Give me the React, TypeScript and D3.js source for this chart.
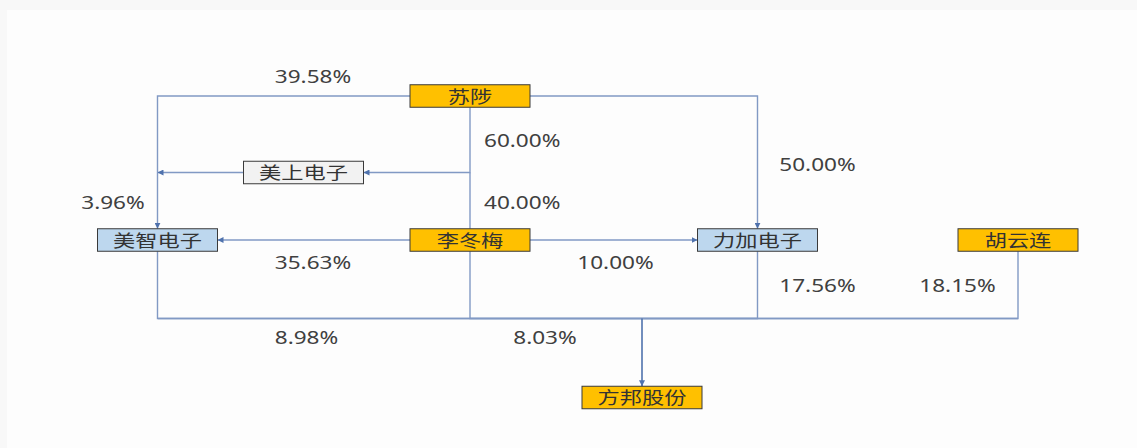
import React from "react";
import * as d3 from "d3";

// ---- data ----
const entityNames = ["苏陟", "李冬梅", "美上电子", "美智电子", "力加电子", "胡云连", "方邦股份"];
const entityKinds = ["person", "person", "holding", "company", "company", "person", "target"];

// ownership edges: [owner, owned, share]
const edgeOwners = ["苏陟", "苏陟", "苏陟", "李冬梅", "美上电子", "李冬梅", "李冬梅", "美智电子", "李冬梅", "力加电子", "胡云连"];
const edgeTargets = ["美智电子", "力加电子", "美上电子", "美上电子", "美智电子", "美智电子", "力加电子", "方邦股份", "方邦股份", "方邦股份", "方邦股份"];
const edgeShares = ["39.58%", "50.00%", "60.00%", "40.00%", "3.96%", "35.63%", "10.00%", "8.98%", "8.03%", "17.56%", "18.15%"];

// ---- layout (grid units -> pixels through scales) ----
const W = 1137;
const H = 448;
const x = d3.scaleLinear().domain([0, 1]).range([0, W]);
const y = d3.scaleLinear().domain([0, 1]).range([0, H]);

const boxW = 120;
const boxH = 22.5;

const nodePos: Record<string, [number, number]> = {
  "苏陟": [470 / W, 96 / H],
  "李冬梅": [470 / W, 240 / H],
  "美上电子": [303.5 / W, 172.5 / H],
  "美智电子": [157.5 / W, 240 / H],
  "力加电子": [757.5 / W, 240 / H],
  "胡云连": [1018 / W, 240 / H],
  "方邦股份": [642 / W, 397.5 / H],
};

const busY = 318.5 / H;

// label anchor positions per edge index (center x, baseline y)
const labelPos: [number, number][] = [
  [313, 83],
  [817.5, 170.5],
  [484, 147],
  [484, 209],
  [113, 209],
  [313, 269],
  [615.5, 269],
  [306.5, 344],
  [545, 344],
  [817.5, 292],
  [957.5, 292],
];

const fills: Record<string, string> = {
  person: "#ffc000",
  holding: "#f2f2f2",
  company: "#bdd7ee",
  target: "#ffc000",
};

const LINE = "#8199c4";
const ARROW = "#4f72ad";
const FONT = "'Noto Sans', 'Noto Sans CJK SC', sans-serif";
const SX = 1.27;

function P(name: string): [number, number] {
  const p = nodePos[name];
  return [x(p[0]), y(p[1])];
}

function edgePath(i: number): { d: string; arrow: boolean } {
  const o = P(edgeOwners[i]);
  const t = P(edgeTargets[i]);
  const line = d3.line();
  const hw = boxW / 2;
  const hh = boxH / 2;
  const target = edgeTargets[i];
  if (target === "方邦股份") {
    return { d: line([[o[0], o[1] + hh], [o[0], y(busY)], [t[0], y(busY)]]) as string, arrow: false };
  }
  if (Math.abs(o[1] - t[1]) < 1) {
    const dir = t[0] > o[0] ? 1 : -1;
    return { d: line([[o[0] + dir * hw, o[1]], [t[0] - dir * hw, t[1]]]) as string, arrow: true };
  }
  if (edgeOwners[i] === "李冬梅") {
    return { d: line([[o[0], o[1] - hh], [o[0], t[1]]]) as string, arrow: false };
  }
  if (target === "美上电子") {
    return { d: line([[o[0], o[1] + hh], [o[0], t[1]], [t[0] + hw, t[1]]]) as string, arrow: true };
  }
  if (edgeOwners[i] === "美上电子") {
    return { d: line([[o[0] - hw, o[1]], [t[0], o[1]]]) as string, arrow: true };
  }
  const dir = t[0] > o[0] ? 1 : -1;
  return { d: line([[o[0] + dir * hw, o[1]], [t[0], o[1]], [t[0], t[1] - hh]]) as string, arrow: true };
}

export default function App() {
  const target = P("方邦股份");
  return (
    <svg
      width={W}
      height={H}
      style={{ position: "absolute", left: 0, top: 0, display: "block" }}
    >
      <defs>
        <marker id="ah" viewBox="0 0 10 10" refX="10" refY="5" markerWidth="6" markerHeight="6" markerUnits="userSpaceOnUse" orient="auto">
          <path d="M0,0 L10,5 L0,10 z" fill={ARROW} />
        </marker>
      </defs>
      <rect x={0} y={0} width={W} height={H} fill="#f8f8f8" />
      <rect x={7} y={10} width={W - 7} height={H - 10} fill="#fdfdfd" />

      {edgeShares.map((_, i) => {
        const e = edgePath(i);
        return (
          <path
            key={"e" + i}
            d={e.d}
            fill="none"
            stroke={LINE}
            strokeWidth={1.4}
            markerEnd={e.arrow ? "url(#ah)" : undefined}
          />
        );
      })}
      <path
        d={d3.line()([[x(158 / W), y(busY)], [x(1018 / W), y(busY)]]) as string}
        fill="none"
        stroke={LINE}
        strokeWidth={1.4}
      />
      <path
        d={d3.line()([[target[0], y(busY)], [target[0], target[1] - boxH / 2]]) as string}
        fill="none"
        stroke={ARROW}
        strokeWidth={1.6}
        markerEnd="url(#ah)"
      />

      {entityNames.map((n, i) => {
        const [cx, cy] = P(n);
        return (
          <g key={n}>
            <rect
              x={cx - boxW / 2}
              y={cy - boxH / 2}
              width={boxW}
              height={boxH}
              fill={fills[entityKinds[i]]}
              stroke="#3a3a3a"
              strokeWidth={1}
            />
            <text
              transform={`translate(${cx},${cy + 6.5}) scale(${SX},1)`}
              textAnchor="middle"
              fontFamily={FONT}
              fontSize={17.5}
              fill="#333"
            >
              {n}
            </text>
          </g>
        );
      })}

      {edgeShares.map((s, i) => {
        const [lx, ly] = labelPos[i];
        const anchorStart = i === 2 || i === 3;
        return (
          <text
            key={"l" + i}
            transform={`translate(${lx},${ly}) scale(1.22,1)`}
            textAnchor={anchorStart ? "start" : "middle"}
            fontFamily={FONT}
            fontSize={18.5}
            fill="#404040"
          >
            {s}
          </text>
        );
      })}
    </svg>
  );
}
